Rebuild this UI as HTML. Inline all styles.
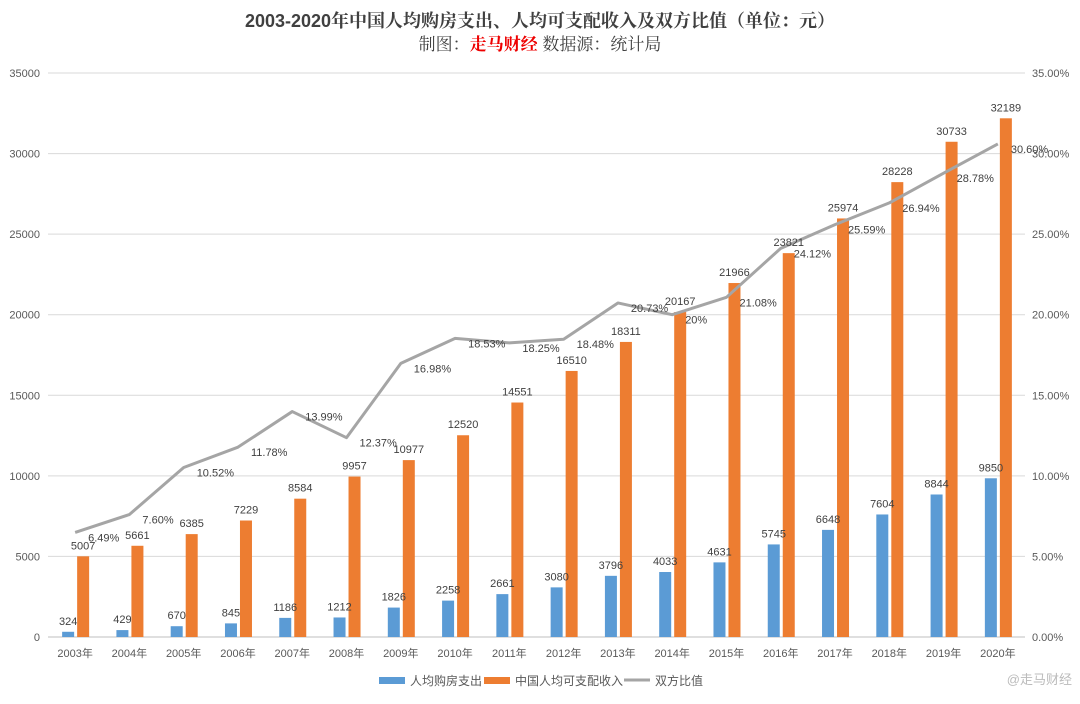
<!DOCTYPE html>
<html><head><meta charset="utf-8"><style>
body{margin:0;background:#fff;}
svg text{font-family:"Liberation Sans","Noto Sans CJK SC",sans-serif;}
</style></head><body>
<svg id="chart" width="1080" height="699" xmlns="http://www.w3.org/2000/svg">
<rect x="0" y="0" width="1080" height="699" fill="#fff"/>
<text x="540" y="27" text-anchor="middle" font-size="18" font-weight="bold" fill="#404040" style="font-family:'Liberation Sans','Noto Serif CJK SC',serif">2003-2020年中国人均购房支出、人均可支配收入及双方比值（单位：元）</text>
<text x="540" y="50" text-anchor="middle" font-size="17" fill="#404040" style="font-family:'Liberation Sans','Noto Serif CJK SC',serif">制图：<tspan fill="#e00" font-weight="bold">走马财经</tspan> 数据源：统计局</text>
<g id="grid"></g><g id="bars"></g><g id="line"></g><g id="labels"></g><g id="axes"></g>
<g>
<rect x="379" y="677" width="26" height="7" fill="#5b9bd5"/>
<text x="410" y="685" font-size="12" fill="#595959">人均购房支出</text>
<rect x="484" y="677" width="26" height="7" fill="#ed7d31"/>
<text x="515" y="685" font-size="12" fill="#595959">中国人均可支配收入</text>
<line x1="624" y1="680" x2="650" y2="680" stroke="#a5a5a5" stroke-width="3"/>
<text x="655" y="685" font-size="12" fill="#595959">双方比值</text>
</g>
<text x="1072" y="684" text-anchor="end" font-size="13" fill="#bbb">@走马财经</text>
</svg>
<script>
const years=["2003年","2004年","2005年","2006年","2007年","2008年","2009年","2010年","2011年","2012年","2013年","2014年","2015年","2016年","2017年","2018年","2019年","2020年"];
const housing=[324,429,670,845,1186,1212,1826,2258,2661,3080,3796,4033,4631,5745,6648,7604,8844,9850];
const income=[5007,5661,6385,7229,8584,9957,10977,12520,14551,16510,18311,20167,21966,23821,25974,28228,30733,32189];
const ratio=[6.49,7.60,10.52,11.78,13.99,12.37,16.98,18.53,18.25,18.48,20.73,20.00,21.08,24.12,25.59,26.94,28.78,30.60];
const ratioLabels=["6.49%","7.60%","10.52%","11.78%","13.99%","12.37%","16.98%","18.53%","18.25%","18.48%","20.73%","20%","21.08%","24.12%","25.59%","26.94%","28.78%","30.60%"];
const leftTicks=[0,5000,10000,15000,20000,25000,30000,35000];
const rightTicks=["0.00%","5.00%","10.00%","15.00%","20.00%","25.00%","30.00%","35.00%"];
const X0=48,X1=1025,Y0=637,Y1=73;
const step=(X1-X0)/years.length;
const xc=i=>X0+step*(i+0.5);
const yL=v=>Y0-(v/35000)*(Y0-Y1);
const yR=v=>Y0-(v/35)*(Y0-Y1);
const NS="http://www.w3.org/2000/svg";
function mk(t,a,p,txt){const e=document.createElementNS(NS,t);for(const k in a)e.setAttribute(k,a[k]);if(txt!==undefined)e.textContent=txt;document.getElementById(p).appendChild(e);return e;}
leftTicks.forEach((v,i)=>{
 let g=mk('line',{x1:X0,x2:X1,y1:yL(v),y2:yL(v),stroke:i?'#d9d9d9':'#bfbfbf','stroke-width':1},'grid');
 
 
 let t=mk('text',{x:40,y:yL(v)+4,'text-anchor':'end','font-size':11,fill:'#595959'},'axes',String(v));
 
 
 let r=mk('text',{x:1032,y:yR(i*5)+4,'font-size':11,fill:'#595959'},'axes',rightTicks[i]);
 
 
});
const bw=12;
years.forEach((y,i)=>{
 const c=xc(i);
 let b=mk('rect',{x:c-13,y:yL(housing[i]),width:bw,height:Y0-yL(housing[i]),fill:'#5b9bd5'},'bars');
 
 
 let o=mk('rect',{x:c+2,y:yL(income[i]),width:bw,height:Y0-yL(income[i]),fill:'#ed7d31'},'bars');
 
 
 let t1=mk('text',{x:c-7,y:yL(housing[i])-7,'text-anchor':'middle','font-size':11,fill:'#404040'},'labels',String(housing[i]));
 
 
 let t2=mk('text',{x:c+8,y:yL(income[i])-7,'text-anchor':'middle','font-size':11,fill:'#404040'},'labels',String(income[i]));
 
 
 let t3=mk('text',{x:c+13,y:yR(ratio[i])+9,'font-size':11,fill:'#404040'},'labels',ratioLabels[i]);
 
 
 let xl=mk('text',{x:c,y:657,'text-anchor':'middle','font-size':11,fill:'#595959'},'axes',y);
 
 
});
let pts=ratio.map((v,i)=>xc(i)+','+yR(v)).join(' ');
let pl=mk('polyline',{points:pts,fill:'none',stroke:'#a5a5a5','stroke-width':3,'stroke-linejoin':'round'},'line');


</script>
</body></html>
